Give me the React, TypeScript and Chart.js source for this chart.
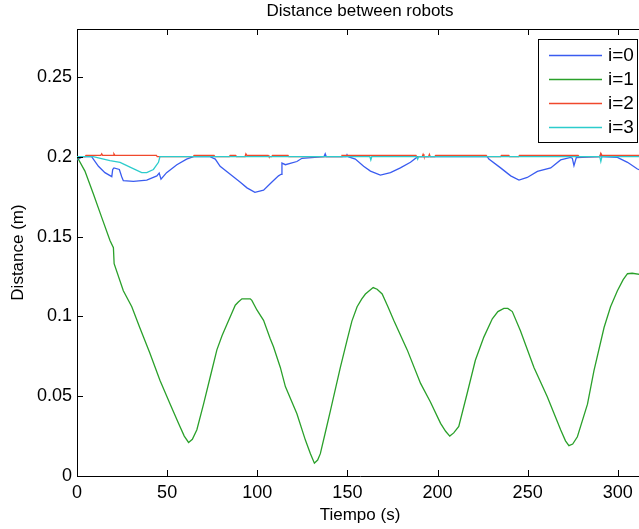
import React, { useEffect, useRef } from 'react';
import { Chart, registerables } from 'chart.js';

Chart.register(...registerables);

const TITLE = 'Distance between robots';
const X_LABEL = 'Tiempo (s)';
const Y_LABEL = 'Distance (m)';
const SERIES_NAMES = ['i=0', 'i=1', 'i=2', 'i=3'];
const SERIES_COLORS = ['#3a5cf0', '#2aa02a', '#f0482c', '#2ccccc'];
const X_TICKS = [0, 50, 100, 150, 200, 250, 300];
const Y_TICKS = [0, 0.05, 0.1, 0.15, 0.2, 0.25];
const X_MAX = 314;
const Y_MAX = 0.28;

// i=0
const T0 = [0, 3, 8.1, 11.9, 15.5, 19.3, 19.8, 20.5, 23.5, 24.8, 25.7, 31.3, 38.7, 44.3, 45.6, 46.6, 49.7, 55.4, 60.8, 64.6, 73.8, 76.7, 79.4, 85, 90.6, 94.3, 98.7, 103.5, 108, 111.8, 113.2, 113.7, 115.6, 122, 124.8, 137, 137.7, 138.3, 149.3, 149.8, 150.4, 154.4, 159, 162.8, 168.3, 173.9, 179.4, 185, 189, 227.6, 228.5, 235, 240.6, 245.2, 249.8, 255.4, 262.8, 268.3, 273.9, 274.8, 275.7, 277, 290, 290.6, 291.2, 299.8, 305.4, 310.9, 314];
const V0 = [0.198, 0.2, 0.2, 0.194, 0.19, 0.1875, 0.192, 0.193, 0.192, 0.1875, 0.185, 0.1846, 0.1854, 0.188, 0.1898, 0.186, 0.19, 0.195, 0.1985, 0.2, 0.2, 0.1985, 0.194, 0.189, 0.184, 0.1805, 0.1777, 0.179, 0.184, 0.188, 0.189, 0.196, 0.195, 0.197, 0.199, 0.2, 0.2018, 0.2, 0.2, 0.2013, 0.2, 0.1985, 0.194, 0.191, 0.1885, 0.19, 0.193, 0.1965, 0.2, 0.2, 0.1985, 0.193, 0.188, 0.1854, 0.187, 0.1908, 0.193, 0.198, 0.1996, 0.199, 0.1944, 0.1995, 0.2, 0.2015, 0.2, 0.1996, 0.1965, 0.1923, 0.191];

// i=1
const T1 = [0, 4.4, 9, 13.7, 18.3, 20.2, 20.6, 25.7, 30.4, 34.8, 40.4, 46, 51.7, 56.3, 59.5, 61.9, 64, 66.5, 70.2, 73.9, 77.6, 80.5, 83.2, 85.5, 87.8, 89.5, 91.5, 96.1, 97, 99.8, 103.5, 107.2, 109, 112.8, 115.6, 119, 122, 126.7, 129.5, 131.7, 133.5, 135, 137.5, 140.6, 146.1, 149.8, 152.5, 155.4, 158, 160, 164.3, 166.5, 169.3, 172.5, 175.7, 183.2, 190.6, 196, 201.7, 204.5, 206.8, 209, 211.8, 216.5, 221, 225.7, 230.4, 233.5, 236.8, 239, 241.5, 246, 253.5, 260.9, 268.3, 271, 272.9, 275, 277.6, 283.2, 286.8, 292.4, 296, 299.8, 303, 305.4, 308, 314];
const V1 = [0.2, 0.191, 0.177, 0.162, 0.1475, 0.143, 0.133, 0.116, 0.106, 0.093, 0.077, 0.06, 0.045, 0.033, 0.025, 0.021, 0.023, 0.029, 0.045, 0.062, 0.079, 0.088, 0.095, 0.101, 0.107, 0.109, 0.111, 0.111, 0.11, 0.104, 0.0975, 0.086, 0.081, 0.068, 0.056, 0.047, 0.039, 0.0225, 0.014, 0.008, 0.01, 0.014, 0.026, 0.041, 0.068, 0.085, 0.097, 0.106, 0.111, 0.114, 0.118, 0.117, 0.114, 0.106, 0.0975, 0.079, 0.058, 0.0465, 0.033, 0.028, 0.025, 0.027, 0.031, 0.052, 0.0725, 0.087, 0.0985, 0.103, 0.105, 0.105, 0.103, 0.091, 0.068, 0.0496, 0.029, 0.022, 0.019, 0.02, 0.0246, 0.045, 0.066, 0.093, 0.106, 0.116, 0.123, 0.1267, 0.127, 0.126];

// i=2
const T2 = [0, 4.5, 5, 13.2, 13.7, 14.2, 20, 20.5, 21, 44, 44.5, 64.5, 65, 76, 76.5, 84.5, 85, 88, 88.5, 93.2, 93.7, 94.2, 106, 106.5, 108, 108.5, 117, 117.5, 146.5, 147, 188, 188.5, 191.5, 192, 192.5, 195, 195.5, 196, 198.5, 199, 227, 227.5, 235, 235.5, 239.5, 240, 245, 245.5, 278, 278.5, 290, 290.6, 291.2, 314];
const V2 = [0.2, 0.2, 0.2009, 0.2009, 0.2018, 0.2009, 0.2009, 0.2018, 0.2009, 0.2009, 0.2, 0.2, 0.2009, 0.2009, 0.2, 0.2, 0.2009, 0.2009, 0.2, 0.2, 0.2018, 0.2009, 0.2009, 0.2, 0.2, 0.2009, 0.2009, 0.2, 0.2, 0.2009, 0.2009, 0.2, 0.2, 0.2015, 0.2, 0.2, 0.2015, 0.2, 0.2, 0.2009, 0.2009, 0.2, 0.2, 0.2009, 0.2009, 0.2, 0.2, 0.2009, 0.2009, 0.2, 0.2, 0.2022, 0.2009, 0.2009];

// i=3
const T3 = [0, 9, 13, 18.3, 23.9, 29.4, 35.9, 38.7, 42.4, 45.2, 46, 162.5, 163, 163.5, 188.5, 189, 189.5, 290, 290.6, 291.2, 314];
const V3 = [0.2, 0.2, 0.199, 0.1975, 0.1965, 0.1935, 0.19, 0.19, 0.192, 0.1965, 0.2, 0.2, 0.198, 0.2, 0.2, 0.1985, 0.2, 0.2, 0.197, 0.2, 0.2];

const SERIES_T = [T0, T1, T2, T3];
const SERIES_V = [V0, V1, V2, V3];

const FONT_FAMILY = "'Liberation Sans', Arial, Helvetica, sans-serif";
const TITLE_SIZE = 17;
const TICK_SIZE = 18;
const LEGEND_SIZE = 19;

const fmt = (v: number) => String(Number(Number(v).toFixed(4)));

const decorPlugin = {
  id: 'matlabDecor',
  afterDraw(chart: any) {
    const { ctx, chartArea } = chart;
    const { left, right, top, bottom } = chartArea;
    const xs = chart.scales.x;
    const ys = chart.scales.y;
    ctx.save();
    ctx.strokeStyle = '#000';
    ctx.lineWidth = 1;
    ctx.beginPath();
    ctx.moveTo(left, top + 0.5);
    ctx.lineTo(right, top + 0.5);
    const tl = 6;
    xs.ticks.forEach((t: any) => {
      const px = Math.round(xs.getPixelForValue(t.value)) + 0.5;
      ctx.moveTo(px, bottom);
      ctx.lineTo(px, bottom - tl);
      ctx.moveTo(px, top);
      ctx.lineTo(px, top + tl);
    });
    ys.ticks.forEach((t: any) => {
      const py = Math.round(ys.getPixelForValue(t.value)) + 0.5;
      ctx.moveTo(left, py);
      ctx.lineTo(left + tl, py);
    });
    ctx.stroke();

    // legend box
    const bx = right - 105;
    const by = top + 10;
    const bw = 99;
    const bh = 103;
    ctx.fillStyle = '#fff';
    ctx.fillRect(bx, by, bw, bh);
    ctx.strokeStyle = '#000';
    ctx.strokeRect(bx + 0.5, by + 0.5, bw, bh);
    ctx.font = `${LEGEND_SIZE}px ${FONT_FAMILY}`;
    ctx.textAlign = 'left';
    ctx.textBaseline = 'middle';
    chart.data.datasets.forEach((ds: any, i: number) => {
      const y = by + 16 + i * 24;
      ctx.strokeStyle = ds.borderColor;
      ctx.lineWidth = 1.4;
      ctx.beginPath();
      ctx.moveTo(bx + 11, y + 0.5);
      ctx.lineTo(bx + 64, y + 0.5);
      ctx.stroke();
      ctx.fillStyle = '#000';
      ctx.fillText(ds.label, bx + 70, y + 1);
    });
    ctx.restore();
  },
};

export default function App() {
  const ref = useRef<HTMLCanvasElement | null>(null);
  useEffect(() => {
    document.body.style.overflow = 'hidden';
    const canvas = ref.current!;
    const datasets = SERIES_NAMES.map((name, i) => ({
      label: name,
      data: SERIES_T[i].map((t, k) => ({ x: t, y: SERIES_V[i][k] })),
      borderColor: SERIES_COLORS[i],
      backgroundColor: SERIES_COLORS[i],
      borderWidth: 1.3,
      pointRadius: 0,
      tension: 0,
      fill: false,
      order: 3 - i,
    }));
    const chart = new Chart(canvas, {
      type: 'line',
      data: { datasets },
      plugins: [decorPlugin],
      options: {
        responsive: false,
        animation: false,
        devicePixelRatio: 1,
        layout: { padding: 0 },
        plugins: {
          legend: { display: false },
          tooltip: { enabled: false },
          title: {
            display: true,
            text: TITLE,
            fullSize: false,
            color: '#000',
            font: { family: FONT_FAMILY, size: TITLE_SIZE, weight: 'normal', lineHeight: 1.2 },
            padding: { top: 1, bottom: 7.6 },
          },
        },
        scales: {
          x: {
            type: 'linear',
            min: 0,
            max: X_MAX,
            afterFit: (s: any) => { s.height = 53; },
            afterBuildTicks: (s: any) => { s.ticks = X_TICKS.map((v) => ({ value: v })); },
            grid: { display: false, drawTicks: false },
            border: { display: true, color: '#000', width: 1 },
            ticks: {
              color: '#000',
              padding: 6,
              maxRotation: 0,
              font: { family: FONT_FAMILY, size: TICK_SIZE },
              callback: (v: any) => fmt(v),
            },
            title: {
              display: true,
              text: X_LABEL,
              color: '#000',
              font: { family: FONT_FAMILY, size: TITLE_SIZE, lineHeight: 1.2 },
              padding: { top: 0, bottom: 3 },
            },
          },
          y: {
            type: 'linear',
            min: 0,
            max: Y_MAX,
            afterFit: (s: any) => { s.width = 77; },
            afterBuildTicks: (s: any) => { s.ticks = Y_TICKS.map((v) => ({ value: v })); },
            grid: { display: false, drawTicks: false },
            border: { display: true, color: '#000', width: 1 },
            ticks: {
              color: '#000',
              padding: 5,
              font: { family: FONT_FAMILY, size: TICK_SIZE },
              callback: (v: any) => fmt(v),
            },
            title: {
              display: true,
              text: Y_LABEL,
              color: '#000',
              font: { family: FONT_FAMILY, size: TITLE_SIZE, lineHeight: 1.2 },
              padding: { top: 8, bottom: 0 },
            },
          },
        },
      },
    } as any);
    return () => chart.destroy();
  }, []);
  return (
    <div style={{ position: 'absolute', left: 0, top: 0, width: 643, height: 529, background: '#fff' }}>
      <canvas ref={ref} width={643} height={529} style={{ display: 'block' }} />
    </div>
  );
}
